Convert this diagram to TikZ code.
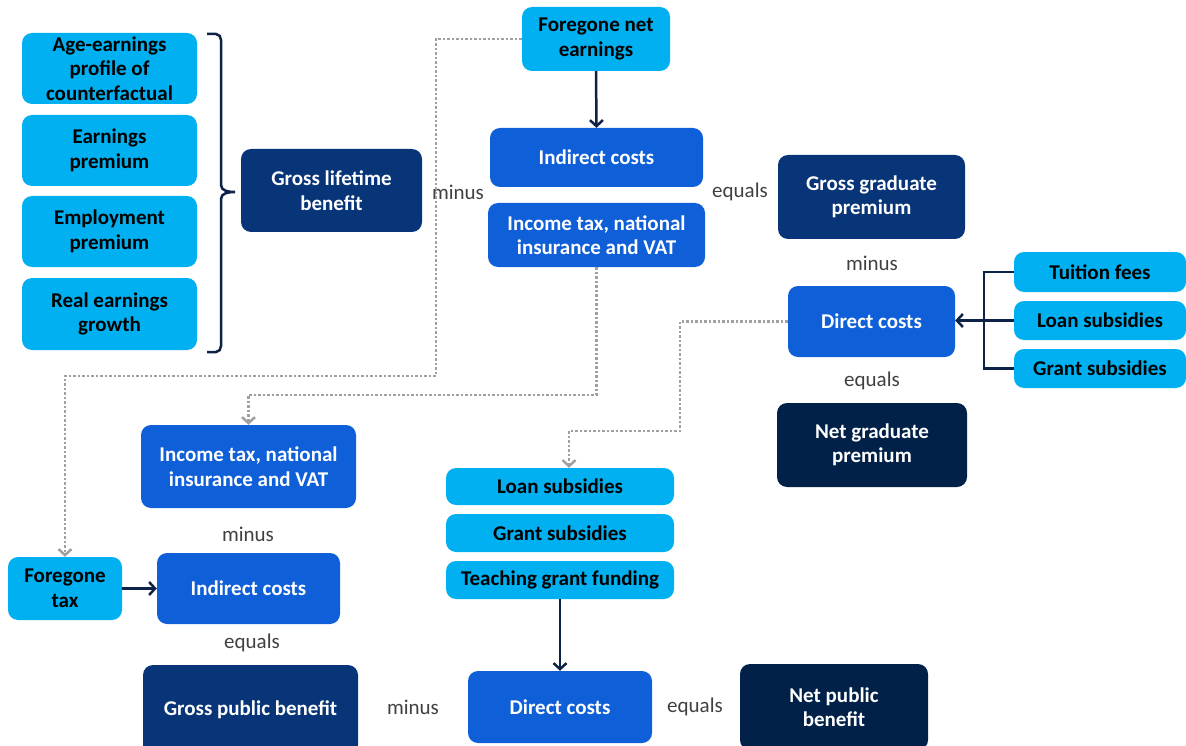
\documentclass[tikz,border=0pt]{standalone}
\usepackage{fontspec}
\setmainfont{Carlito}
\usetikzlibrary{arrows.meta}
\definecolor{lightb}{HTML}{00B0F0}
\definecolor{midb}{HTML}{0E5FD8}
\definecolor{darkb}{HTML}{083578}
\definecolor{navyb}{HTML}{012148}
\definecolor{linec}{HTML}{0E2147}
\definecolor{dotc}{HTML}{A0A0A0}
\definecolor{labc}{HTML}{404040}
\begin{document}
\begin{tikzpicture}[x=1pt,y=-1pt,
  box/.style={rounded corners=10pt,inner sep=0pt,align=center,font=\fontsize{21}{24.5}\selectfont\bfseries},
  lb/.style={box,fill=lightb,text=black},
  mb/.style={box,fill=midb,text=white},
  db/.style={box,fill=darkb,text=white},
  nb/.style={box,fill=navyb,text=white},
  lab/.style={font=\fontsize{21}{24.5}\selectfont,text=labc,inner sep=0pt},
  conn/.style={draw=linec,line width=2.5pt},
  arr/.style={conn,-{Straight Barb[length=6pt,width=13pt,line width=2.5pt]}},
  dot/.style={draw=dotc,line width=2.5pt,dash pattern=on 2.5pt off 2pt,-{Straight Barb[length=6pt,width=13pt,line width=2.5pt]}}
]
\useasboundingbox (0,0) rectangle (1186,746);
% left group
\node[lb,minimum width=175pt,minimum height=71pt] (age) at (109.5,68.5) {Age-earnings\\profile of\\counterfactual};
\node[lb,minimum width=175pt,minimum height=71pt] (earn) at (109.5,150.5) {Earnings\\premium};
\node[lb,minimum width=175pt,minimum height=71pt] (emp) at (109.5,231.5) {Employment\\premium};
\node[lb,minimum width=175pt,minimum height=72pt] (real) at (109.5,314) {Real earnings\\growth};
\node[db,minimum width=181pt,minimum height=83pt] (glb) at (331.5,190.5) {Gross lifetime\\benefit};
\draw[linec,line width=2.5pt] (207,34) -- (216,34) to[out=0,in=90] (221,40) -- (221,185) to[out=-90,in=180] (235,192) to[out=180,in=90] (221,199) -- (221,346) to[out=-90,in=0] (216,352) -- (207,352);
\node[lab] (m1) at (458,192) {minus};
% top middle
\node[lb,minimum width=148pt,minimum height=64pt] (fne) at (596,39) {Foregone net\\earnings};
\node[mb,minimum width=213pt,minimum height=59pt] (ic1) at (596.5,157.5) {Indirect costs};
\node[mb,minimum width=217pt,minimum height=64pt] (it1) at (596.5,235) {Income tax, national\\insurance and VAT};
\node[lab] (e1) at (740,192) {equals};
\node[db,minimum width=187pt,minimum height=84pt] (ggp) at (871.5,197) {Gross graduate\\premium};
\node[lab] (m2) at (872,263) {minus};
\node[mb,minimum width=167pt,minimum height=71pt] (dc1) at (871.5,321.5) {Direct costs};
\node[lab] (e2) at (872,381) {equals};
\node[nb,minimum width=190pt,minimum height=84pt] (ngp) at (872,445) {Net graduate\\premium};
\node[lb,minimum width=172pt,minimum height=40pt] (tf) at (1100,272) {Tuition fees};
\node[lb,minimum width=172pt,minimum height=39pt] (ls1) at (1100,320.5) {Loan subsidies};
\node[lb,minimum width=172pt,minimum height=39pt] (gs1) at (1100,368.5) {Grant subsidies};
% lower left
\node[mb,minimum width=215pt,minimum height=83pt] (it2) at (248.5,466.5) {Income tax, national\\insurance and VAT};
\node[lab] (m3) at (248,534) {minus};
\node[lb,minimum width=114pt,minimum height=63pt] (ft) at (65,588.5) {Foregone\\tax};
\node[mb,minimum width=183pt,minimum height=71pt] (ic2) at (248.5,588.5) {Indirect costs};
\node[lab] (e3) at (252,643) {equals};
\node[db,minimum width=215pt,minimum height=90pt] (gpb) at (250.5,710) {Gross public benefit};
\node[lab] (m4) at (413,707) {minus};
% lower middle
\node[lb,minimum width=228pt,minimum height=37pt] (ls2) at (560,486.5) {Loan subsidies};
\node[lb,minimum width=228pt,minimum height=38pt] (gs2) at (560,533) {Grant subsidies};
\node[lb,minimum width=228pt,minimum height=38pt] (tg) at (560,580) {Teaching grant funding};
\node[mb,minimum width=184pt,minimum height=72pt] (dc2) at (560,707) {Direct costs};
\node[lab] (e4) at (695,707) {equals};
\node[nb,minimum width=188pt,minimum height=86pt] (npb) at (834,707) {Net public\\benefit};
% solid connectors
\draw[arr] (fne.south) -- (ic1.north);
\draw[arr] (ft.east) -- (ic2.west);
\draw[arr] (tg.south) -- (dc2.north);
\coordinate (j) at (984,321);
\draw[conn] (tf.west) -| (j);
\draw[conn] (gs1.west) -| (j);
\draw[arr] (ls1.west) -- (ls1.west -| dc1.east);
% dotted connectors
\coordinate (d1) at (436,376);
\draw[dot] (fne.west) -| (d1) -| (ft.north);
\coordinate (d2) at (596.5,395);
\draw[dot] (it1.south) -- (d2) -| (it2.north);
\coordinate (d3) at (680,431);
\draw[dot] (dc1.west) -| (d3) -| ([xshift=9pt]ls2.north);
\end{tikzpicture}
\end{document}
